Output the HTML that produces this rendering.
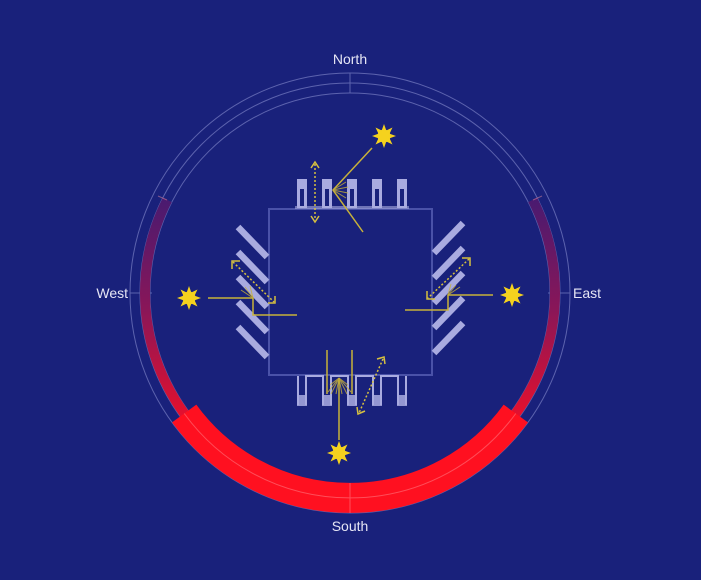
<!DOCTYPE html>
<html><head><meta charset="utf-8"><style>
html,body{margin:0;padding:0;background:#19217b;}
svg{display:block;}
text{font-family:"Liberation Sans",sans-serif;font-size:14px;fill:#e6e6f5;}
</style></head><body>
<svg width="701" height="580" viewBox="0 0 701 580" xmlns="http://www.w3.org/2000/svg">
<defs>
<linearGradient id="g" gradientUnits="userSpaceOnUse" x1="0" y1="200" x2="0" y2="420">
<stop offset="0" stop-color="#4a1a70"/>
<stop offset="0.5" stop-color="#8a1658"/>
<stop offset="1" stop-color="#e8102c"/>
</linearGradient>
<g id="sun">
<g fill="#f5d21e">
<polygon points="0,-12 2.5,-5 -2.5,-5"/>
<polygon points="0,-12 2.5,-5 -2.5,-5" transform="rotate(45)"/>
<polygon points="0,-12 2.5,-5 -2.5,-5" transform="rotate(90)"/>
<polygon points="0,-12 2.5,-5 -2.5,-5" transform="rotate(135)"/>
<polygon points="0,-12 2.5,-5 -2.5,-5" transform="rotate(180)"/>
<polygon points="0,-12 2.5,-5 -2.5,-5" transform="rotate(225)"/>
<polygon points="0,-12 2.5,-5 -2.5,-5" transform="rotate(270)"/>
<polygon points="0,-12 2.5,-5 -2.5,-5" transform="rotate(315)"/>
<circle r="6.5"/>
</g>
</g>
</defs>
<rect width="701" height="580" fill="#19217b"/>

<!-- ring lines -->
<g fill="none" stroke="#8a8fd0" stroke-width="1" opacity="0.6">
<circle cx="350" cy="293" r="200"/>
<circle cx="350" cy="293" r="210"/>
<circle cx="350" cy="293" r="220"/>
<line x1="350" y1="73" x2="350" y2="93"/>
<line x1="130" y1="293" x2="152" y2="293"/>
<line x1="548" y1="293" x2="570" y2="293"/>
</g>

<!-- bands -->
<path d="M167.3,199.9 A205,205 0 1 0 532.7,199.9" fill="none" stroke="url(#g)" stroke-width="10"/>
<path d="M184.2,413.5 A205,205 0 0 0 515.8,413.5" fill="none" stroke="#ff1020" stroke-width="30"/>
<g fill="none" stroke="#ff9aa0" stroke-width="1" opacity="0.45">
<path d="M184.2,413.5 A205,205 0 0 0 515.8,413.5"/>
<line x1="350" y1="483" x2="350" y2="513"/>
<line x1="167" y1="200" x2="158" y2="196"/>
<line x1="533" y1="200" x2="542" y2="196"/>
</g>

<text x="350" y="64" text-anchor="middle">North</text>
<text x="350" y="531" text-anchor="middle">South</text>
<text x="128" y="298" text-anchor="end">West</text>
<text x="573" y="298">East</text>

<!-- square -->
<rect x="269" y="209" width="163" height="166" fill="none" stroke="#4a52a8" stroke-width="2"/>

<!-- north fins -->
<g fill="#a9abe0">
<rect x="295" y="206" width="114" height="3" opacity="0.6"/>
<rect x="297" y="179" width="10" height="29"/>
<rect x="322" y="179" width="10" height="29"/>
<rect x="347" y="179" width="10" height="29"/>
<rect x="372" y="179" width="10" height="29"/>
<rect x="397" y="179" width="10" height="29"/>
</g>
<g fill="#19217b">
<rect x="300" y="189" width="4" height="17"/>
<rect x="325" y="189" width="4" height="17"/>
<rect x="350" y="189" width="4" height="17"/>
<rect x="375" y="189" width="4" height="17"/>
<rect x="400" y="189" width="4" height="17"/>
</g>

<!-- south fins -->
<path d="M298,376 V405 M306,405 V376 H323 V405 M331,405 V376 H348 V405 M356,405 V376 H373 V405 M381,405 V376 H398 V405 M406,405 V376" fill="none" stroke="#a9abe0" stroke-width="2"/>
<g fill="#a9abe0" opacity="0.85">
<rect x="297" y="395" width="10" height="11"/>
<rect x="322" y="395" width="10" height="11"/>
<rect x="347" y="395" width="10" height="11"/>
<rect x="372" y="395" width="10" height="11"/>
<rect x="397" y="395" width="10" height="11"/>
</g>

<!-- west slats -->
<g stroke="#a9abe0" stroke-width="6.5">
<line x1="238" y1="227" x2="267" y2="257"/>
<line x1="238" y1="252" x2="267" y2="282"/>
<line x1="238" y1="277" x2="267" y2="307"/>
<line x1="238" y1="302" x2="267" y2="332"/>
<line x1="238" y1="327" x2="267" y2="357"/>
</g>
<!-- east slats -->
<g stroke="#a9abe0" stroke-width="6.5">
<line x1="463" y1="223" x2="434" y2="253"/>
<line x1="463" y1="248" x2="434" y2="278"/>
<line x1="463" y1="273" x2="434" y2="303"/>
<line x1="463" y1="298" x2="434" y2="328"/>
<line x1="463" y1="323" x2="434" y2="353"/>
</g>

<!-- suns -->
<use href="#sun" x="384" y="136"/>
<use href="#sun" x="189" y="298"/>
<use href="#sun" x="512" y="295"/>
<use href="#sun" x="339" y="453"/>

<!-- rays -->
<g stroke="#c8b23a" stroke-width="1.5" fill="none">
<path d="M372,148 L333,190 L363,232"/>
<path d="M208,298 H253 V315 H297"/>
<path d="M493,295 H448 V310 H405"/>
<line x1="339" y1="378" x2="339" y2="440"/>
<line x1="327" y1="350" x2="327" y2="394"/>
<line x1="352" y1="350" x2="352" y2="394"/>
</g>
<!-- fans -->
<g stroke="#c8b23a" stroke-width="1" opacity="0.8">
<line x1="333" y1="190" x2="346" y2="182"/>
<line x1="333" y1="190" x2="348" y2="187"/>
<line x1="333" y1="190" x2="348" y2="193"/>
<line x1="333" y1="190" x2="346" y2="198"/>
<line x1="253" y1="298" x2="241" y2="290"/>
<line x1="253" y1="298" x2="245" y2="287"/>
<line x1="253" y1="298" x2="250" y2="286"/>
<line x1="448" y1="295" x2="460" y2="287"/>
<line x1="448" y1="295" x2="456" y2="285"/>
<line x1="448" y1="295" x2="451" y2="284"/>
<line x1="339" y1="378" x2="328" y2="392"/>
<line x1="339" y1="378" x2="331" y2="394"/>
<line x1="339" y1="378" x2="336" y2="394"/>
<line x1="339" y1="378" x2="342" y2="394"/>
<line x1="339" y1="378" x2="347" y2="394"/>
<line x1="339" y1="378" x2="351" y2="392"/>
<line x1="339" y1="378" x2="330" y2="385"/>
<line x1="339" y1="378" x2="348" y2="385"/>
</g>
<!-- dashed arrows -->
<g stroke="#d6c040" stroke-width="1.5" stroke-dasharray="2,2" fill="none">
<line x1="315" y1="164" x2="315" y2="220"/>
<line x1="233" y1="262" x2="274" y2="302"/>
<line x1="469" y1="259" x2="428" y2="298"/>
<line x1="383" y1="359" x2="359" y2="413"/>
</g>
<g stroke="#d6c040" stroke-width="1.5" fill="none">
<path d="M311,168 L315,162 L319,168"/>
<path d="M311,216 L315,222 L319,216"/>
<path d="M232,269 L232,261 L240,261"/>
<path d="M268,303 L275,303 L275,296"/>
<path d="M462,258 L470,258 L470,266"/>
<path d="M427,291 L427,299 L435,299"/>
<path d="M377,359 L384,357 L385,364"/>
<path d="M357,407 L358,414 L365,411"/>
</g>
</svg>
</body></html>
